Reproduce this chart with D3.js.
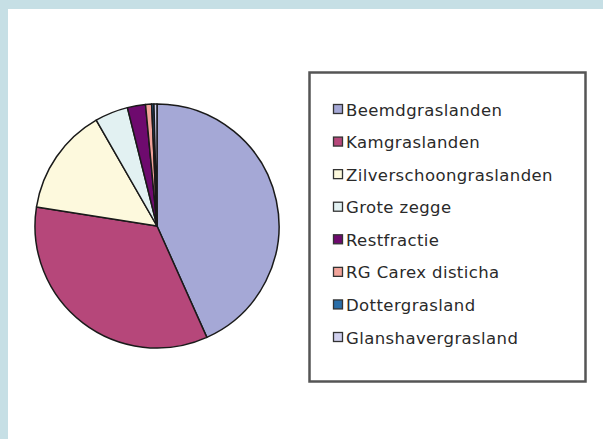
<!DOCTYPE html>
<html>
<head>
<meta charset="utf-8">
<script src="https://cdn.jsdelivr.net/npm/d3@7"></script>
<style>
  body { margin: 0; padding: 0; background: #fff; }
</style>
</head>
<body>
<div id="chart"></div>
<script>
// categories and shares (percent)
var categories = ["Beemdgraslanden", "Kamgraslanden", "Zilverschoongraslanden", "Grote zegge",
                  "Restfractie", "RG Carex disticha", "Dottergrasland", "Glanshavergrasland"];
var shares = [43.3, 34.2, 14.2, 4.4, 2.4, 0.8, 0.3, 0.4];
var colours = ["#a5a8d6", "#b6477a", "#fdf9dd", "#e2f1f2", "#6e0a6e", "#f2a49a", "#2a6ea8", "#d0d0ee"];

var width = 603, height = 439;

var svg = d3.select("#chart").append("svg")
    .attr("width", width)
    .attr("height", height);

/* light blue frame along top and left */
svg.append("rect").attr("x", 0).attr("y", 0).attr("width", width).attr("height", height).attr("fill", "#c6dfe5");
svg.append("rect").attr("x", 8).attr("y", 9).attr("width", width - 8).attr("height", height - 9).attr("fill", "#fff");

/* pie */
var data = categories.map(function(c, i){ return {name: c, value: shares[i], colour: colours[i]}; });
var pie = d3.pie().sort(null).value(function(d){ return d.value; });
var arc = d3.arc().innerRadius(0).outerRadius(122);

var pieGroup = svg.append("g").attr("transform", "translate(157,226)");
pieGroup.selectAll("path")
    .data(pie(data))
    .enter()
    .append("path")
    .attr("d", arc)
    .attr("fill", function(d){ return d.data.colour; })
    .attr("stroke", "#1a1a1a")
    .attr("stroke-width", 1.5)
    .attr("stroke-linejoin", "round");

/* legend */
var legend = svg.append("g");
legend.append("rect")
    .attr("x", 309.5).attr("y", 72.5)
    .attr("width", 276).attr("height", 309)
    .attr("fill", "#fff")
    .attr("stroke", "#555")
    .attr("stroke-width", 2.5);

var y = d3.scalePoint().domain(categories).range([110, 338]);

var items = legend.selectAll(".item")
    .data(data)
    .enter()
    .append("g")
    .attr("class", "item")
    .attr("transform", function(d){ return "translate(0," + y(d.name) + ")"; });
items.append("rect")
    .attr("x", 333.5).attr("y", -5.5)
    .attr("width", 9).attr("height", 9)
    .attr("fill", function(d){ return d.colour; })
    .attr("stroke", "#333")
    .attr("stroke-width", 1.3);
items.append("text")
    .attr("x", 346)
    .attr("y", 5.5)
    .attr("font-family", "DejaVu Sans, sans-serif")
    .attr("font-size", 16.5)
    .attr("letter-spacing", 0.4)
    .attr("fill", "#2a2a2a")
    .text(function(d){ return d.name; });
</script>
</body>
</html>
